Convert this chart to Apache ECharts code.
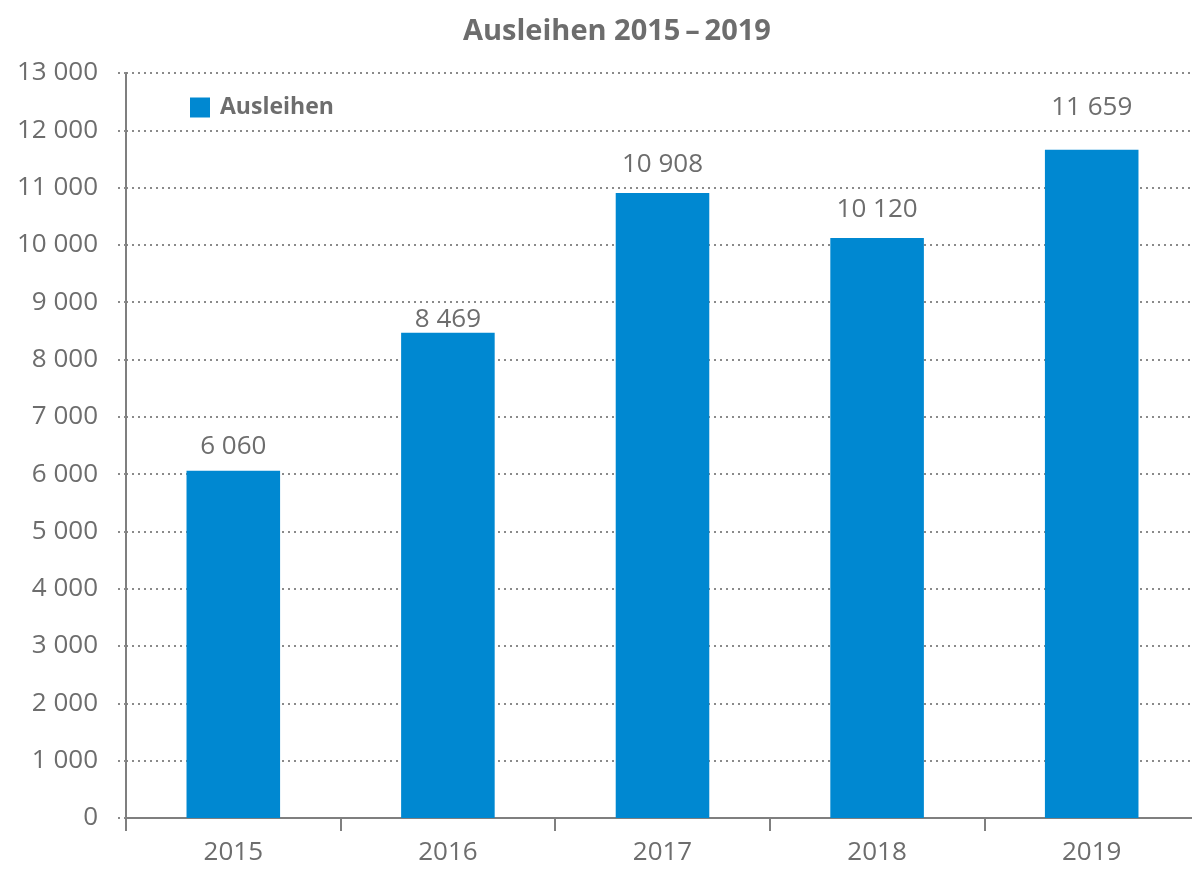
<!DOCTYPE html>
<html><head><meta charset="utf-8">
<script src="https://cdn.jsdelivr.net/npm/echarts@6/dist/echarts.min.js"></script>
<style>html,body{margin:0;padding:0;background:#fff;overflow:hidden}#c{width:1200px;height:869px}</style>
</head><body><div id="c"></div>
<script>
const categories = ['2015', '2016', '2017', '2018', '2019'];
const ausleihen = [6060, 8469, 10908, 10120, 11659];
const seriesName = 'Ausleihen';
const titleText = 'Ausleihen 2015\u2009\u2013\u20092019';
// label gap above each bar (styling only)
const labelGaps = [11, 0, 15, 15, 29];

const fmt = v => String(v).replace(/\B(?=(\d{3})+(?!\d))/g, ' ');
const gray = '#6d6d6d';
const font = '"Open Sans", "Noto Sans", sans-serif';

const chart = echarts.init(document.getElementById('c'));
chart.setOption({
  animation: false,
  title: { text: titleText, left: 458, top: 12,
    textStyle: { fontFamily: font, fontSize: 29, fontWeight: 'bold', color: gray } },
  legend: { left: 185, top: 91, itemWidth: 20, itemHeight: 20, icon: 'rect',
    textStyle: { fontFamily: font, fontSize: 23, fontWeight: 'bold', color: gray, padding: [0, 0, 0, 5] },
    data: [seriesName] },
  grid: { left: 126, right: 1, top: 73, bottom: 51, containLabel: false },
  xAxis: { type: 'category', data: categories,
    axisLine: { lineStyle: { color: '#7f7f7f', width: 2 } },
    axisTick: { show: true, length: 13, lineStyle: { color: '#7f7f7f', width: 2 } },
    axisLabel: { fontFamily: font, fontSize: 26, color: gray, margin: 22 } },
  yAxis: { type: 'value', min: 0, max: 13000, interval: 1000,
    axisLine: { show: true, lineStyle: { color: '#7f7f7f', width: 2 } },
    axisTick: { show: true, length: 12, lineStyle: { color: '#8a8a8a', width: 2, type: [2, 4] } },
    splitLine: { lineStyle: { color: '#8a8a8a', width: 2, type: [2, 4] } },
    axisLabel: { fontFamily: font, fontSize: 26, color: gray, margin: 28, formatter: fmt } },
  series: [{ name: seriesName, type: 'bar', barWidth: '43.6%',
    data: ausleihen.map((v, i) => ({ value: v, label: { distance: labelGaps[i] } })),
    itemStyle: { color: '#0088d1' },
    label: { show: true, position: 'top', fontFamily: font, fontSize: 26, color: gray,
      formatter: p => fmt(p.value) } }]
});
</script></body></html>
